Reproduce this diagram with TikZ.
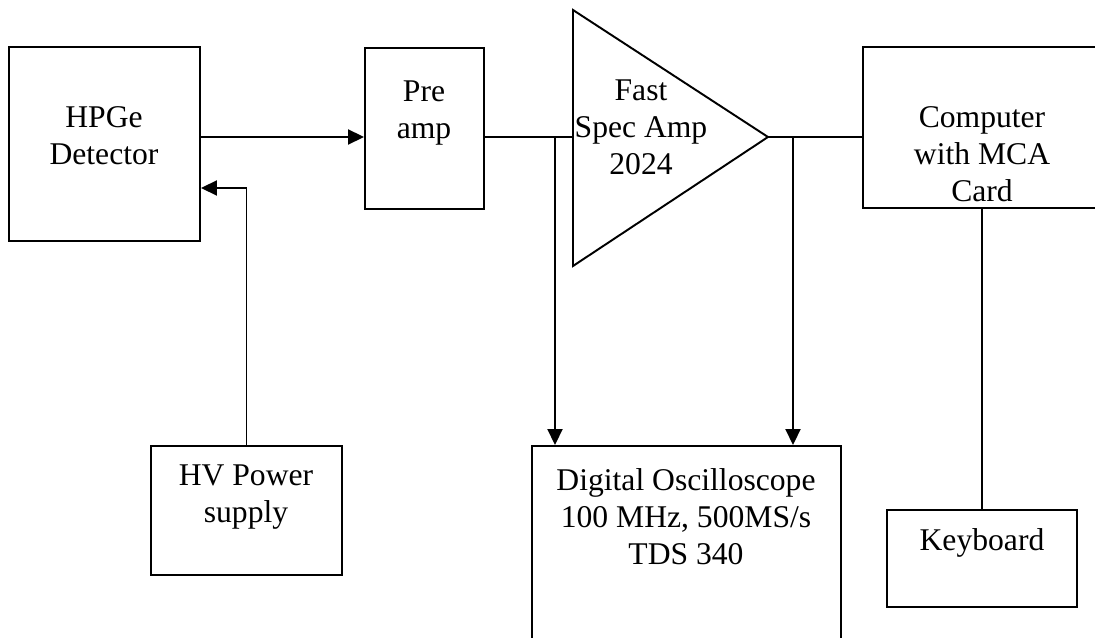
\documentclass[tikz,border=0pt]{standalone}
\usepackage{fontspec}
\setmainfont{Liberation Serif}
\usepackage{tikz}
\usetikzlibrary{arrows.meta}

\tikzset{
  blk/.style={draw, line width=1.1pt, inner sep=0pt},
  lbl/.style={align=center, inner sep=0pt, font=\fontsize{18}{21}\selectfont},
  wire/.style={line width=1.1pt},
  arr/.style={line width=1.1pt, -{Triangle[length=0.32cm, width=0.3cm]}},
}

\begin{document}
\begin{tikzpicture}[x=0.02cm, y=-0.02cm]
    \def\pxu{0.02cm}
    \useasboundingbox (0,0) rectangle (1095,638);
    \node[blk, minimum width=191*\pxu, minimum height=194*\pxu] (det) at (104.5,144) {};
    \node[blk, minimum width=119*\pxu, minimum height=161*\pxu] (pre) at (424.5,128.5) {};
    \node[blk, minimum width=191*\pxu, minimum height=129*\pxu] (hv) at (246.5,510.5) {};
    \node[blk, minimum width=309*\pxu, minimum height=214*\pxu] (osc) at (686.5,553) {};
    \node[blk, minimum width=242*\pxu, minimum height=161*\pxu] (comp) at (984,127.5) {};
    \node[blk, minimum width=190*\pxu, minimum height=97*\pxu] (kbd) at (982,558.5) {};
    \coordinate (ampTop) at (573,10);
    \coordinate (ampBot) at (573,266);
    \coordinate (ampIn) at (573,137);
    \coordinate (ampOut) at (768,137);
    \coordinate (tap1) at (555,137);
    \coordinate (tap2) at (793,137);
    \draw[wire] (ampTop) -- (ampOut) -- (ampBot) -- cycle;
    \node[lbl] (detT) at (104,136) {HPGe\\Detector};
    \node[lbl] (preT) at (424,113) {Pre\\amp};
    \node[lbl] (ampT) at (641,127) {Fast\\Spec Amp\\2024};
    \node[lbl] (oscT) at (686,517) {Digital Oscilloscope\\100 MHz, 500MS/s\\TDS 340};
    \node[lbl] (compT) at (982,154) {Computer\\with MCA\\Card};
    \node[lbl] (kbdT) at (982,543) {Keyboard};
    \node[lbl] (hvT) at (246,497) {HV Power\\supply};
    \draw[arr] (det.east |- ampIn) -- (pre.west |- ampIn);
    \draw[arr] (hv.north) |- (det.east |- 0,188);
    \draw[wire] (pre.east |- ampIn) -- (ampIn);
    \draw[wire] (ampOut) -- (ampOut -| comp.west);
    \draw[arr] (tap1) -- (tap1 |- osc.north);
    \draw[arr] (tap2) -- (tap2 |- osc.north);
    \draw[wire] (kbd.north) -- (kbd.north |- comp.south);
\end{tikzpicture}
\end{document}
